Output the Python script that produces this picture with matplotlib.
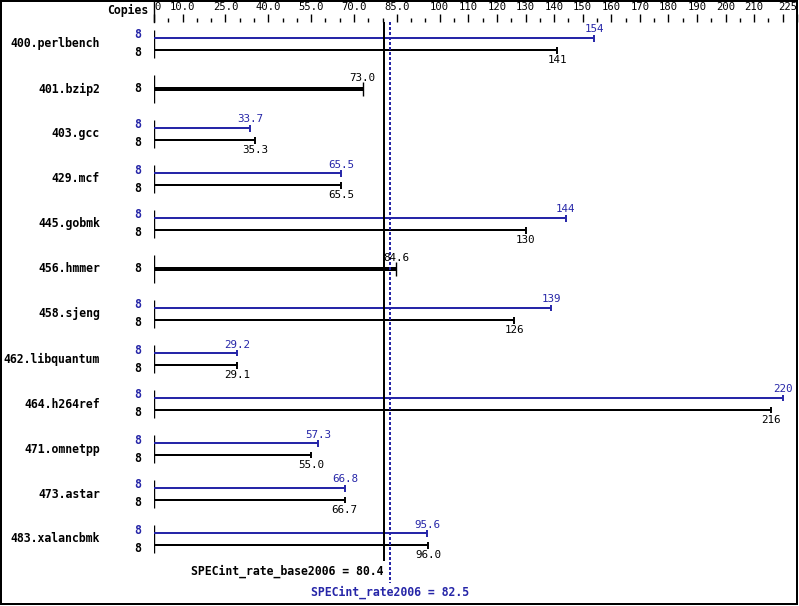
import matplotlib.pyplot as plt
from matplotlib.patches import Rectangle

# benchmark results (SPECint_rate2006, 8 copies)
benchmarks = ["400.perlbench", "401.bzip2", "403.gcc", "429.mcf", "445.gobmk",
              "456.hmmer", "458.sjeng", "462.libquantum", "464.h264ref",
              "471.omnetpp", "473.astar", "483.xalancbmk"]
copies_base = [8, 8, 8, 8, 8, 8, 8, 8, 8, 8, 8, 8]
copies_peak = [8, None, 8, 8, 8, None, 8, 8, 8, 8, 8, 8]
base = [141, 73.0, 35.3, 65.5, 130, 84.6, 126, 29.1, 216, 55.0, 66.7, 96.0]
peak = [154, None, 33.7, 65.5, 144, None, 139, 29.2, 220, 57.3, 66.8, 95.6]
base_mean = 80.4
peak_mean = 82.5

major_ticks = [0, 10, 25, 40, 55, 70, 85, 100, 110, 120, 130, 140, 150, 160,
               170, 180, 190, 200, 210, 220, 225]
major_labels = ["0", "10.0", "25.0", "40.0", "55.0", "70.0", "85.0", "100", "110",
                "120", "130", "140", "150", "160", "170", "180", "190", "200",
                "210", "", "225"]
minor_ticks = [5, 15, 20, 30, 35, 45, 50, 60, 65, 75, 80, 90, 95, 105, 115, 125,
               135, 145, 155, 165, 175, 185, 195, 205, 215]

BLUE = "#2626A8"
BLACK = "#000000"
MONO = "DejaVu Sans Mono"
PT = 72 / 100  # points per pixel


def fmt(v):
    return f"{v:.0f}" if v >= 100 else f"{v:.1f}"


def row_y(px):
    # pixel row (from top) -> data y
    return (px - 44) / 45


fig = plt.figure(figsize=(7.99, 6.06), dpi=100)
ax = fig.add_axes([154 / 799, 0, 643 / 799, 584 / 606])
ax.set_xlim(0, 225)
ax.set_ylim(row_y(606), row_y(22))
for s in ax.spines.values():
    s.set_visible(False)
ax.yaxis.set_visible(False)

ax.xaxis.set_ticks_position("top")
ax.set_xticks(major_ticks)
ax.set_xticklabels(major_labels, family=MONO, fontsize=7.6)
ax.set_xticks(minor_ticks, minor=True)
ax.tick_params(axis="x", which="major", direction="out", length=8 * PT,
               width=1.0, pad=1.5, color=BLACK)
ax.tick_params(axis="x", which="minor", direction="out", length=4 * PT,
               width=1.0, color=BLACK)
labels = ax.get_xticklabels()
labels[0].set_ha("left")
labels[-1].set_ha("right")

# zero line above the chart
ax.plot([0, 0], [row_y(22), row_y(0)], color=BLACK, lw=1.0, clip_on=False)

ytr = ax.get_yaxis_transform()
off = 6 / 45
lw_thin = 2 * PT
lw_thick = 4 * PT

for i, name in enumerate(benchmarks):
    ax.annotate(name, xy=(0, i), xycoords=ytr, xytext=(-54 * PT, 0),
                textcoords="offset points", ha="right", va="center",
                family=MONO, fontsize=8.3, fontweight="bold")
    ax.vlines(0, i - 0.31, i + 0.31, color=BLACK, lw=1.0)

    if peak[i] is None:
        b = base[i]
        ax.hlines(i, 0, b, color=BLACK, lw=lw_thick)
        ax.vlines(b, i - 7 / 45, i + 7 / 45, color=BLACK, lw=1.0)
        ax.annotate(fmt(b), xy=(b, i), xytext=(0, 11 * PT), textcoords="offset points",
                    ha="center", va="center", family=MONO, fontsize=7.8, color=BLACK)
        ax.annotate(str(copies_base[i]), xy=(0, i), xycoords=ytr, xytext=(-16 * PT, 0),
                    textcoords="offset points", ha="center", va="center",
                    family=MONO, fontsize=8.3, fontweight="bold", color=BLACK)
        continue

    p, b = peak[i], base[i]
    yp, yb = i - off, i + off
    ax.hlines(yp, 0, p, color=BLUE, lw=lw_thin)
    ax.vlines(p, yp - 3.5 / 45, yp + 3.5 / 45, color=BLUE, lw=1.4)
    ax.annotate(fmt(p), xy=(p, yp), xytext=(0, 8.5 * PT), textcoords="offset points",
                ha="center", va="center", family=MONO, fontsize=7.8, color=BLUE)
    ax.hlines(yb, 0, b, color=BLACK, lw=lw_thin)
    ax.vlines(b, yb - 3.5 / 45, yb + 3.5 / 45, color=BLACK, lw=1.4)
    ax.annotate(fmt(b), xy=(b, yb), xytext=(0, -10 * PT), textcoords="offset points",
                ha="center", va="center", family=MONO, fontsize=7.8, color=BLACK)
    ax.annotate(str(copies_peak[i]), xy=(0, i), xycoords=ytr, xytext=(-16 * PT, 9 * PT),
                textcoords="offset points", ha="center", va="center",
                family=MONO, fontsize=8.3, fontweight="bold", color=BLUE)
    ax.annotate(str(copies_base[i]), xy=(0, i), xycoords=ytr, xytext=(-16 * PT, -9 * PT),
                textcoords="offset points", ha="center", va="center",
                family=MONO, fontsize=8.3, fontweight="bold", color=BLACK)

# overall means
ax.vlines(base_mean, row_y(22), row_y(561), color=BLACK, lw=2 * PT)
ax.vlines(peak_mean, row_y(22), row_y(583), color=BLUE, lw=2.4 * PT,
          linestyles=(0, (1, 1)), antialiased=False)
ax.text(base_mean, row_y(571), f"SPECint_rate_base2006 = {base_mean}", ha="right",
        va="center", family=MONO, fontsize=8.3, fontweight="bold", color=BLACK)
ax.text(peak_mean, row_y(592), f"SPECint_rate2006 = {peak_mean}", ha="center",
        va="center", family=MONO, fontsize=8.3, fontweight="bold", color=BLUE)

fig.text(148 / 799, 1 - 10.5 / 606, "Copies", ha="right", va="center",
         family=MONO, fontsize=8.3, fontweight="bold")

fig.add_artist(Rectangle((1 / 799, 2 / 606), 796 / 799, 603 / 606,
                         transform=fig.transFigure, fill=False, lw=2 * PT,
                         edgecolor=BLACK))

fig.savefig("out.png", dpi=100, facecolor="white")
